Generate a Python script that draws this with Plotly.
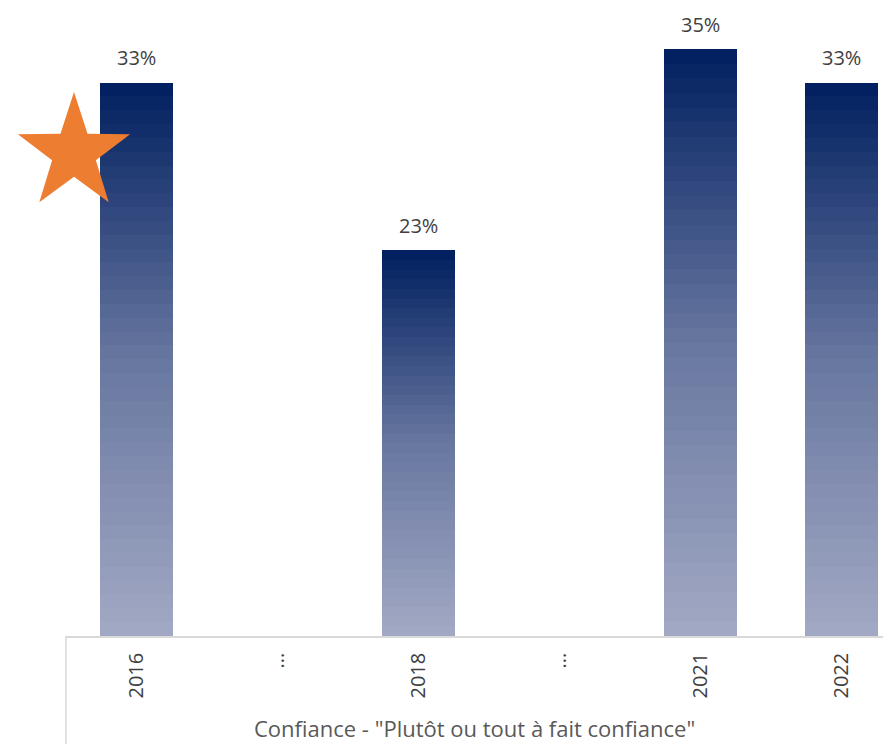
import math
import plotly.graph_objects as go

# Données
categories = ["2016", "...", "2018", "...", "2021", "2022"]
valeurs = [33, None, 23, None, 35, 33]
etiquettes = ["33%", "", "23%", "", "35%", "33%"]
titre_axe = 'Confiance - "Plutôt ou tout à fait confiance"'

# Dégradé vertical : haut foncé -> bas clair
couleur_haut = (0, 31, 95)
couleur_milieu = (104, 119, 160)
couleur_bas = (162, 169, 196)
n_tranches = 40


def couleur_tranche(t):
    # t = 0 en bas, 1 en haut
    if t < 0.5:
        a, b, u = couleur_bas, couleur_milieu, t / 0.5
    else:
        a, b, u = couleur_milieu, couleur_haut, (t - 0.5) / 0.5
    r, g, bl = (round(a[k] + (b[k] - a[k]) * u) for k in range(3))
    return f"rgb({r},{g},{bl})"


x_pos = list(range(len(categories)))
fig = go.Figure()

# Chaque barre est empilée en tranches pour simuler le dégradé
for i in range(n_tranches):
    fig.add_trace(go.Bar(
        x=x_pos,
        y=[v / n_tranches if v is not None else None for v in valeurs],
        marker=dict(color=couleur_tranche((i + 0.5) / n_tranches), line=dict(width=0)),
        width=0.52,
        hoverinfo="skip",
        showlegend=False,
    ))

# Étiquettes de valeurs au-dessus des barres
for x, v, txt in zip(x_pos, valeurs, etiquettes):
    if v is None:
        continue
    fig.add_annotation(x=x, y=v, text=txt, showarrow=False, yanchor="middle", yshift=25,
                       font=dict(family="Open Sans", size=20, color="#404040"))

# Géométrie de la zone de tracé, en pixels de la page (le corps a une marge de 8 px)
gauche, droite, haut, bas = 66, 891, 8, 636


def papier(px, py):
    return (px - gauche) / (droite - gauche), (bas - py) / (bas - haut)


# Étoile orange (un peu étirée verticalement comme dans l'original)
cx, cy, Rx, Ry, ratio = 74, 153, 59, 61, 0.39
points = []
for k in range(10):
    ang = -math.pi / 2 + k * math.pi / 5
    f = 1 if k % 2 == 0 else ratio
    points.append(papier(cx + Rx * f * math.cos(ang), cy + Ry * f * math.sin(ang)))
chemin = "M " + " L ".join(f"{px:.5f},{py:.5f}" for px, py in points) + " Z"
fig.add_shape(type="path", path=chemin, xref="paper", yref="paper",
              fillcolor="#ED7D31", line=dict(width=0), layer="above")

# Ligne verticale du cadre de l'axe des catégories
fig.add_shape(type="line", xref="paper", yref="paper", x0=0, x1=0, y0=0, y1=papier(0, 750)[1],
              line=dict(color="#d9d9d9", width=1.5))

# Titre de l'axe
fig.add_annotation(x=papier(474, 0)[0], y=papier(0, 728)[1], xref="paper", yref="paper",
                   text=titre_axe, showarrow=False, yanchor="middle", borderpad=0,
                   font=dict(family="Open Sans", size=22, color="#595959"))

fig.update_layout(
    width=891, height=744,
    margin=dict(l=gauche - 8, r=8, t=0, b=744 - (bas - 8)),
    barmode="stack",
    bargap=0,
    plot_bgcolor="white",
    paper_bgcolor="white",
    font=dict(family="Open Sans", color="#595959"),
    xaxis=dict(
        range=[-0.5, 5.35],
        tickmode="array",
        tickvals=x_pos,
        ticktext=categories,
        tickangle=-90,
        tickfont=dict(size=20, color="#404040"),
        ticklabelstandoff=7,
        showline=True,
        linecolor="#d9d9d9",
        linewidth=1.5,
        showgrid=False,
        zeroline=False,
        ticks="",
    ),
    yaxis=dict(
        range=[0, (bas - haut) / 16.77],
        visible=False,
        showgrid=False,
        zeroline=False,
    ),
)

fig.write_html("out.html")
